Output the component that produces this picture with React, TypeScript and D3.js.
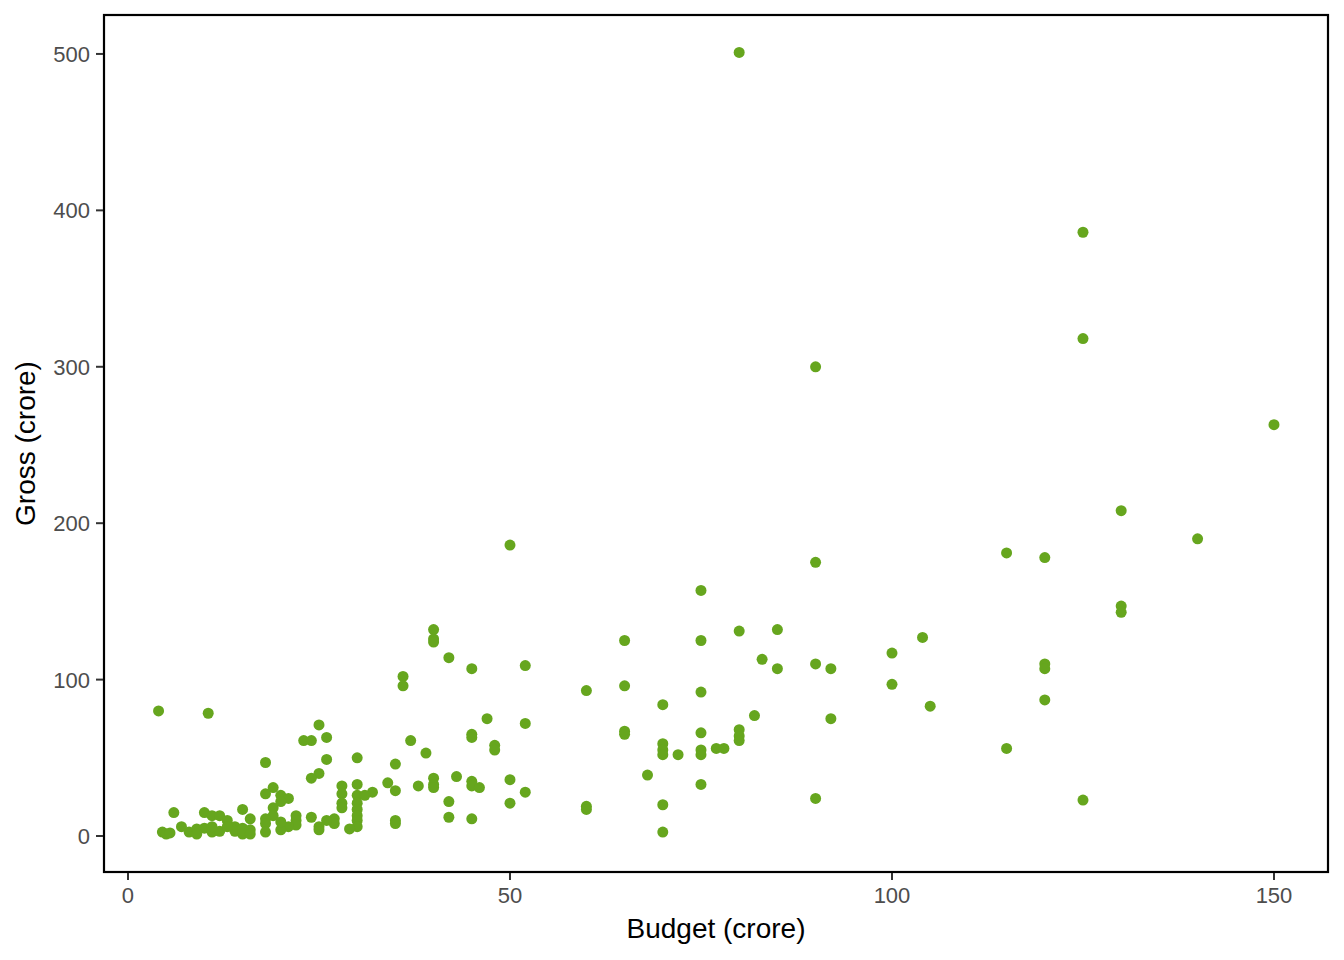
import React from "react";
import * as d3 from "d3";

const budget: number[] = [
  80, 125, 125, 90, 150, 130, 140, 50, 115, 120, 90, 75, 130, 130, 40, 40, 40, 80, 85, 104,
  65, 75, 100, 42, 83, 45, 52, 90, 92, 85, 120, 120, 36, 36, 60, 65, 75, 100, 120, 105,
  70, 4, 10.5, 47, 92, 82, 25, 52, 65, 65, 75, 80, 80, 80, 26, 23, 24, 45, 45, 37,
  48, 48, 70, 70, 70, 72, 75, 75, 77, 78, 39, 30, 26, 18, 35, 25, 24, 68, 43, 40,
  40, 40, 45, 45, 46, 50, 50, 52, 34, 38, 32, 35, 30, 30, 28, 28, 28, 28, 31, 75,
  19, 18, 20, 21, 20, 19, 19, 18, 18, 18, 16, 15, 16, 42, 42, 45, 35, 35, 60, 60,
  70, 70, 90, 125, 115, 30, 30, 30, 30, 30, 29, 27, 27, 26, 25, 25, 24, 22, 22, 22,
  21, 20, 20, 6, 10, 11, 12, 13, 14, 14, 15, 7, 8, 9, 10, 11, 12, 4.5, 5, 5.5,
  9, 11, 13, 15, 16,
];

const gross: number[] = [
  501, 386, 318, 300, 263, 208, 190, 186, 181, 178, 175, 157, 147, 143, 132, 126, 124, 131, 132, 127,
  125, 125, 117, 114, 113, 107, 109, 110, 107, 107, 110, 107, 102, 96, 93, 96, 92, 97, 87, 83,
  84, 80, 78.5, 75, 75, 77, 71, 72, 67, 65, 66, 68, 64, 61, 63, 61, 61, 65, 63, 61,
  58, 55, 59, 55, 52, 52, 55, 52, 56, 56, 53, 50, 49, 47, 46, 40, 37, 39, 38, 37,
  33, 31, 35, 32, 31, 36, 21, 28, 34, 32, 28, 29, 33, 26, 32, 27, 21, 18, 26, 33,
  31, 27, 26, 24, 22, 18, 13, 11, 8, 2.5, 4, 17, 11, 22, 12, 11, 10, 8, 19, 17,
  20, 2.5, 24, 23, 56, 21, 17, 13, 10, 6, 4.5, 11, 8, 10, 6, 4, 12, 13, 10, 7,
  6, 4, 9, 15, 15, 13, 13, 10, 6, 3, 5, 6, 2.5, 4.5, 5, 2.5, 3, 2.5, 1.3, 2,
  1.3, 6, 6, 1.3, 1.3,
];

const xTicks: number[] = [0, 50, 100, 150];
const yTicks: number[] = [0, 100, 200, 300, 400, 500];

const W = 1344;
const H = 960;
const panel = { left: 104, right: 1328, top: 15, bottom: 872 };
const FONT = "'Liberation Sans', Arial, Helvetica, sans-serif";

export default function App() {
  const x = d3.scaleLinear().domain([-3.14, 157.07]).range([panel.left, panel.right]);
  const y = d3.scaleLinear().domain([-23.0, 524.9]).range([panel.bottom, panel.top]);
  const pts = budget.map((b, i) => ({ b, g: gross[i] }));

  return (
    <svg
      width={W}
      height={H}
      style={{ position: "absolute", left: 0, top: 0, background: "#fff" }}
      fontFamily={FONT}
    >
      <rect x={0} y={0} width={W} height={H} fill="#fff" />
      <g>
        {pts.map((p, i) => (
          <circle key={i} cx={x(p.b)} cy={y(p.g)} r={5.5} fill="#66A61E" />
        ))}
      </g>
      <rect
        x={panel.left}
        y={panel.top}
        width={panel.right - panel.left}
        height={panel.bottom - panel.top}
        fill="none"
        stroke="#000"
        strokeWidth={2.2}
      />
      {xTicks.map((t) => (
        <g key={"x" + t}>
          <line x1={x(t)} x2={x(t)} y1={panel.bottom + 1} y2={panel.bottom + 8} stroke="#333" strokeWidth={2} />
          <text x={x(t)} y={903} textAnchor="middle" fontSize={22} fill="#4D4D4D">
            {t}
          </text>
        </g>
      ))}
      {yTicks.map((t) => (
        <g key={"y" + t}>
          <line x1={panel.left - 8} x2={panel.left - 1} y1={y(t)} y2={y(t)} stroke="#333" strokeWidth={2} />
          <text x={90} y={y(t)} dy="0.36em" textAnchor="end" fontSize={22} fill="#4D4D4D">
            {t}
          </text>
        </g>
      ))}
      <text x={(panel.left + panel.right) / 2} y={938} textAnchor="middle" fontSize={28} fill="#000">
        Budget (crore)
      </text>
      <text
        transform={`translate(35, ${(panel.top + panel.bottom) / 2}) rotate(-90)`}
        textAnchor="middle"
        fontSize={28}
        fill="#000"
      >
        Gross (crore)
      </text>
    </svg>
  );
}
